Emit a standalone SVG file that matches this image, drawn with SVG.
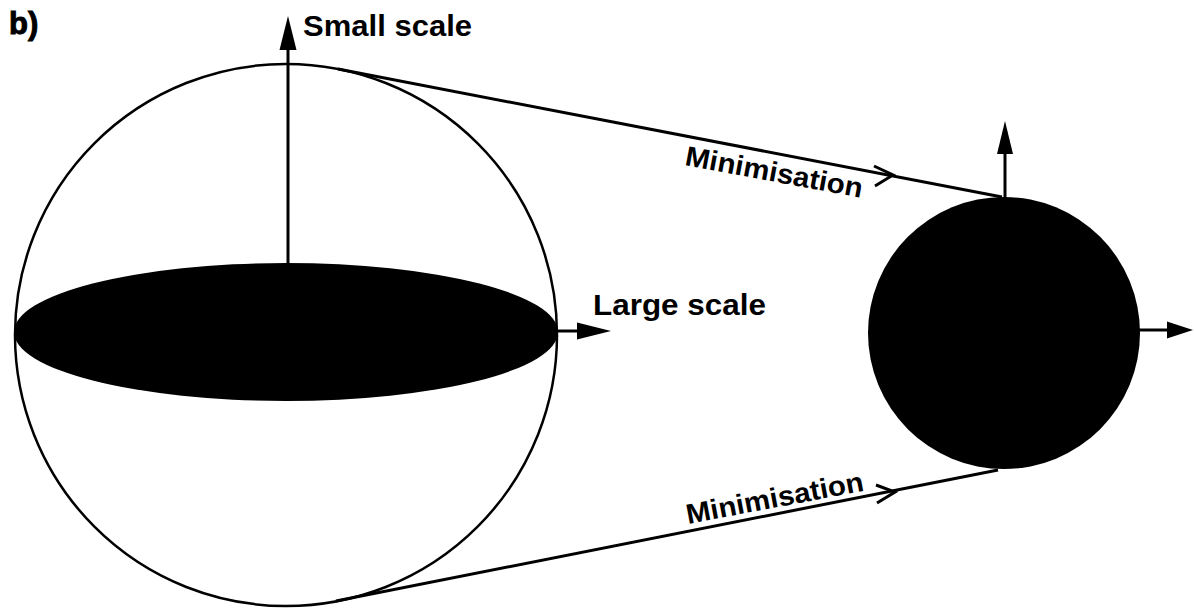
<svg xmlns="http://www.w3.org/2000/svg" width="1194" height="609" viewBox="0 0 1194 609">
<style>
.t{font-family:"Liberation Sans",Arial,sans-serif;font-weight:bold;fill:#000}
.ln{stroke:#000;stroke-width:3;fill:none}
.head{fill:#000}
</style>
<rect width="1194" height="609" fill="#fff"/>
<g id="label-b"><text class="t" x="9" y="34" font-size="31" stroke="#000" stroke-width="1">b)</text></g>
<g id="large-sphere">
<circle cx="286" cy="335" r="271" fill="none" stroke="#000" stroke-width="2.5"/>
<ellipse cx="286" cy="332" rx="272" ry="69" fill="#000"/>
</g>
<g id="small-sphere">
<circle cx="1004" cy="333" r="136" fill="#000"/>
</g>
<g id="axes">
<line class="ln" x1="288" y1="264" x2="288" y2="48"/>
<polygon class="head" points="288,16 279.5,50 296.5,50"/>
<line class="ln" x1="556" y1="331" x2="580" y2="331"/>
<polygon class="head" points="611,331 577,322.5 577,339.5"/>
<line class="ln" x1="1005" y1="198" x2="1005" y2="151"/>
<polygon class="head" points="1005,121 997,154 1013,154"/>
<line class="ln" x1="1139" y1="330" x2="1170" y2="330"/>
<polygon class="head" points="1193,330 1167,321.5 1167,338.5"/>
</g>
<g id="connectors">
<line class="ln" x1="338" y1="69" x2="1002" y2="197"/>
<polyline class="ln" points="874,166 893,175 875,186"/>
<line class="ln" x1="336" y1="601" x2="998" y2="470"/>
<polyline class="ln" points="876,485 895,492 877,503"/>
</g>
<g id="labels">
<text class="t" x="303" y="36" font-size="29" textLength="169" lengthAdjust="spacingAndGlyphs">Small scale</text>
<text class="t" x="593" y="315" font-size="29" textLength="173" lengthAdjust="spacingAndGlyphs">Large scale</text>
<text class="t" font-size="28" textLength="180" lengthAdjust="spacingAndGlyphs" transform="translate(684,165) rotate(10.5)">Minimisation</text>
<text class="t" font-size="28" textLength="180" lengthAdjust="spacingAndGlyphs" transform="translate(688,524) rotate(-10.7)">Minimisation</text>
</g>
</svg>
